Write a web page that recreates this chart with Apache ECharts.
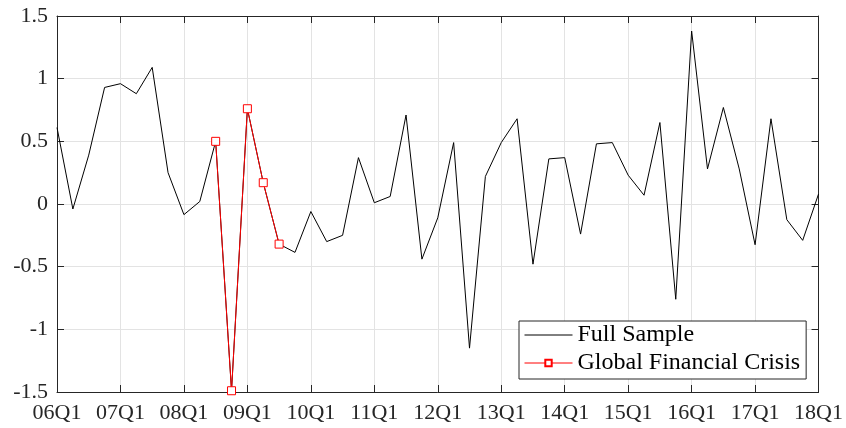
<!DOCTYPE html>
<html>
<head>
<meta charset="utf-8">
<script src="https://cdn.jsdelivr.net/npm/echarts@6/dist/echarts.min.js"></script>
<style>
  html, body { margin: 0; padding: 0; background: #fff; }
  #chart { width: 846px; height: 428px; }
</style>
</head>
<body>
<div id="chart"></div>
<script>
// quarters 06Q1 .. 18Q1
var years = ['06', '07', '08', '09', '10', '11', '12', '13', '14', '15', '16', '17', '18'];
var quarters = [];
years.forEach(function (y, i) {
  for (var q = 1; q <= 4; q++) {
    if (i === years.length - 1 && q > 1) break;
    quarters.push(y + 'Q' + q);
  }
});

var fullSample = [
  0.61, -0.04, 0.39, 0.93, 0.96, 0.88, 1.09, 0.25, -0.085, 0.02,
  0.50, -1.49, 0.76, 0.17, -0.32, -0.386, -0.06, -0.30, -0.25, 0.37,
  0.01, 0.06, 0.71, -0.44, -0.11, 0.49, -1.15, 0.22, 0.49, 0.68,
  -0.48, 0.36, 0.37, -0.24, 0.48, 0.49, 0.23, 0.07, 0.65, -0.76,
  1.38, 0.28, 0.77, 0.28, -0.325, 0.68, -0.125, -0.29, 0.08
];

// Global Financial Crisis: 08Q3 .. 09Q3
var gfcStart = 10;
var gfcValues = [0.50, -1.49, 0.76, 0.17, -0.32];
var gfc = quarters.map(function (q, i) {
  var k = i - gfcStart;
  return (k >= 0 && k < gfcValues.length) ? gfcValues[k] : null;
});

var font = 'Liberation Serif';
var axisColor = '#262626';

var chart = echarts.init(document.getElementById('chart'));
chart.setOption({
  animation: false,
  backgroundColor: '#fff',
  grid: { left: 57, right: 27, top: 16, bottom: 36 },
  legend: {
    orient: 'vertical',
    left: 519,
    top: 321,
    padding: [2, 6, 4, 5],
    itemGap: 4,
    itemWidth: 48,
    itemHeight: 8,
    borderColor: '#262626',
    borderWidth: 1,
    borderRadius: 0,
    backgroundColor: '#fff',
    lineStyle: { width: 1 },
    textStyle: { fontFamily: font, fontSize: 24, lineHeight: 24, color: '#000' },
    data: [
      { name: 'Full Sample', itemStyle: { color: 'transparent', borderColor: 'transparent', borderWidth: 0 } },
      { name: 'Global Financial Crisis' }
    ]
  },
  xAxis: [{
    type: 'category',
    data: quarters,
    boundaryGap: false,
    axisLine: { onZero: false, lineStyle: { color: axisColor } },
    axisTick: { inside: true, length: 7, interval: 3, lineStyle: { color: axisColor } },
    axisLabel: { interval: 3, fontFamily: font, fontSize: 22, color: axisColor, margin: 10 },
    splitLine: { show: true, interval: 3, lineStyle: { color: '#e3e3e3' } }
  }, {
    type: 'category',
    data: quarters,
    position: 'top',
    boundaryGap: false,
    axisLine: { onZero: false, lineStyle: { color: axisColor } },
    axisTick: { inside: true, length: 7, interval: 3, lineStyle: { color: axisColor } },
    axisLabel: { show: false },
    splitLine: { show: false }
  }],
  yAxis: [{
    type: 'value',
    min: -1.5,
    max: 1.5,
    interval: 0.5,
    axisLine: { show: true, onZero: false, lineStyle: { color: axisColor } },
    axisTick: { show: true, inside: true, length: 7, lineStyle: { color: axisColor } },
    axisLabel: { fontFamily: font, fontSize: 22, color: axisColor, margin: 9 },
    splitLine: { show: true, lineStyle: { color: '#e3e3e3' } }
  }, {
    type: 'value',
    position: 'right',
    min: -1.5,
    max: 1.5,
    interval: 0.5,
    axisLine: { show: true, onZero: false, lineStyle: { color: axisColor } },
    axisTick: { show: true, inside: true, length: 7, lineStyle: { color: axisColor } },
    axisLabel: { show: false },
    splitLine: { show: false }
  }],
  series: [{
    name: 'Full Sample',
    type: 'line',
    data: fullSample,
    symbol: 'none',
    lineStyle: { color: '#000', width: 1 },
    itemStyle: { color: '#000' }
  }, {
    name: 'Global Financial Crisis',
    type: 'line',
    data: gfc,
    symbol: 'rect',
    symbolSize: 8,
    lineStyle: { color: '#ff0000', width: 1 },
    itemStyle: { color: '#fff', borderColor: '#ff0000', borderWidth: 1 },
    z: 3
  }]
});
</script>
</body>
</html>
